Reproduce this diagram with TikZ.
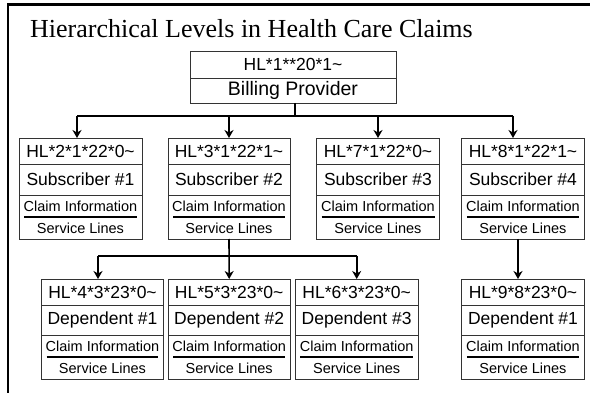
\documentclass[tikz,border=0pt]{standalone}
\usepackage{fontspec}
\setmainfont{Liberation Serif}
\newfontfamily\arialf{Liberation Sans}
\usetikzlibrary{arrows.meta}
\newcommand\bigf{\arialf\fontsize{17.5}{20}\selectfont}
\newcommand\bpf{\arialf\fontsize{19.5}{22}\selectfont}
\newcommand\smallf{\arialf\fontsize{14.5}{17}\selectfont}
\tikzset{
  row/.style={rectangle, draw=black!80, line width=0.8pt, inner sep=0pt, outer sep=0pt, anchor=north},
  srow/.style={rectangle, inner sep=0pt, outer sep=0pt, anchor=north, font=\smallf},
  boxline/.style={draw=black!80, line width=0.8pt},
  sepline/.style={draw=black, line width=1.2pt},
  conn/.style={draw=black, line width=1.6pt},
  arr/.style={draw=black, line width=1.6pt, -{Stealth[length=8pt,width=9pt,inset=2.5pt]}},
  frame/.style={draw=black, line width=2.4pt}
}
% #1 name, #2 cx, #3 top, #4 width, #5 name-row height, #6 HL text, #7 label
\newcommand\hlbox[7]{%
  \node[row, minimum width=#4, minimum height=26pt, font=\bigf] (#1hl) at (#2,#3) {#6};
  \node[row, minimum width=#4, minimum height=#5, font=\bigf] (#1name) at (#1hl.south) {#7};
  \node[srow, minimum width=#4, minimum height=22pt] (#1claim) at (#1name.south) {Claim Information};
  \node[srow, minimum width=#4, minimum height=22pt] (#1svc) at (#1claim.south) {Service Lines};
  \draw[boxline] (#1name.south west) rectangle (#1svc.south east);
  \draw[sepline] ([xshift=5pt]#1claim.south west) -- ([xshift=-5pt]#1claim.south east);
}
\begin{document}
\begin{tikzpicture}[x=1pt,y=-1pt]
\useasboundingbox (0,0) rectangle (590,393);
\fill[white] (0,0) rectangle (590,393);
\draw[frame] (590,4.5) -- (8,4.5) -- (8,393);
\node[anchor=base west, font=\fontsize{26}{30}\selectfont, inner sep=0pt] (title) at (30,38) {Hierarchical Levels in Health Care Claims};
% billing provider
\node[row, minimum width=206pt, minimum height=27pt, font=\bigf] (bphl) at (293,51) {HL*1**20*1\textasciitilde};
\node[row, minimum width=206pt, minimum height=25pt, font=\bpf] (bpname) at (bphl.south) {Billing Provider};
% subscribers
\hlbox{sa}{80.5}{138}{123pt}{31pt}{HL*2*1*22*0\textasciitilde}{Subscriber \#1}
\hlbox{sb}{229}{138}{122pt}{31pt}{HL*3*1*22*1\textasciitilde}{Subscriber \#2}
\hlbox{sc}{378}{138}{123pt}{31pt}{HL*7*1*22*0\textasciitilde}{Subscriber \#3}
\hlbox{sd}{523}{138}{122.5pt}{31pt}{HL*8*1*22*1\textasciitilde}{Subscriber \#4}
% dependents
\hlbox{da}{102.5}{279}{121.6pt}{30pt}{HL*4*3*23*0\textasciitilde}{Dependent \#1}
\hlbox{db}{229.2}{279}{121.6pt}{30pt}{HL*5*3*23*0\textasciitilde}{Dependent \#2}
\hlbox{dc}{356.7}{279}{123.3pt}{30pt}{HL*6*3*23*0\textasciitilde}{Dependent \#3}
\hlbox{dd}{523}{279}{122.3pt}{30pt}{HL*9*8*23*0\textasciitilde}{Dependent \#1}
% connectors level 1
\coordinate (busA) at (0,116);
\draw[conn] ([xshift=2pt]bpname.south) -- ([xshift=2pt]bpname.south |- busA);
\draw[conn] ([xshift=-3.5pt]sahl.north |- busA) -- ([xshift=-10pt]sdhl.north |- busA);
\draw[arr] ([xshift=-3.5pt]sahl.north |- busA) -- ([xshift=-3.5pt]sahl.north);
\draw[arr] (sbhl.north |- busA) -- (sbhl.north);
\draw[arr] (schl.north |- busA) -- (schl.north);
\draw[arr] ([xshift=-10pt]sdhl.north |- busA) -- ([xshift=-10pt]sdhl.north);
% connectors level 2
\coordinate (busB) at (0,256);
\draw[arr] (sbsvc.south) -- (dbhl.north);
\draw[conn] ([xshift=-4.5pt]dahl.north |- busB) -- (dchl.north |- busB);
\draw[arr] ([xshift=-4.5pt]dahl.north |- busB) -- ([xshift=-4.5pt]dahl.north);
\draw[arr] (dchl.north |- busB) -- (dchl.north);
\draw[arr] ([xshift=-5pt]sdsvc.south) -- ([xshift=-5pt]ddhl.north);
\end{tikzpicture}
\end{document}
